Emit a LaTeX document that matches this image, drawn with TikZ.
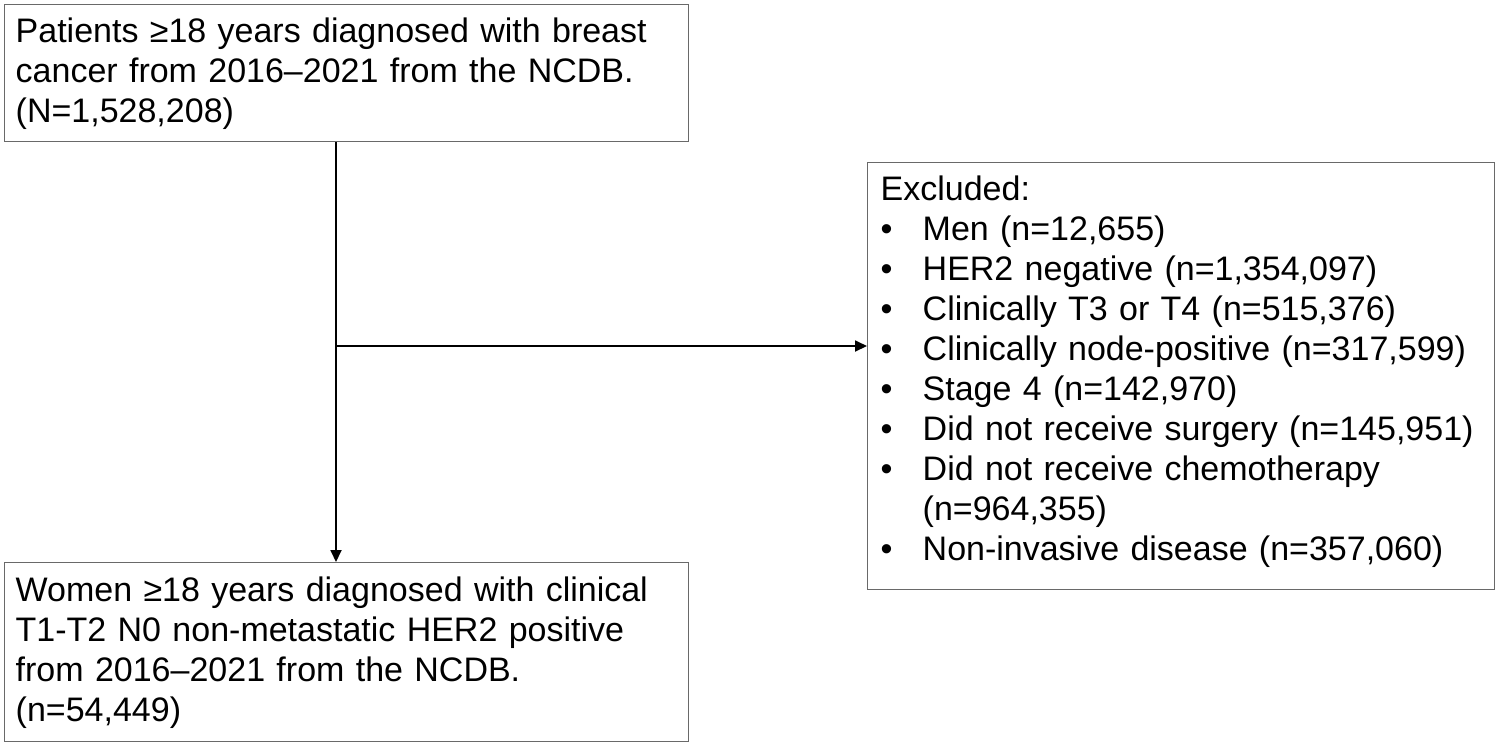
\documentclass[tikz,border=0pt]{standalone}
\usepackage{fontspec}
\setmainfont{Liberation Sans}
\usetikzlibrary{arrows.meta}
\definecolor{boxgray}{RGB}{105,105,105}
\newcommand{\bul}{\makebox[21pt][l]{•}}
\begin{document}
\begin{tikzpicture}[x=0.5pt, y=-0.5pt, font=\fontsize{17pt}{20pt}\selectfont,
	box/.style={draw=boxgray, line width=0.7pt, anchor=north west, align=left, inner xsep=5.5pt, inner ysep=0pt},
	flow/.style={line width=0.9pt, -{Triangle[length=6pt,width=5.5pt]}}]
	%frame
	\useasboundingbox (0,0) rectangle (1499,746);
	%boxes
	\node[box, text width=331pt, minimum height=68.5pt] (cohort) at (4,4)
	{Patients ≥18 years diagnosed with breast\\
		cancer from 2016–2021 from the NCDB.\\
		(N=1,528,208)};
	\node[box, text width=331pt, minimum height=89.5pt] (study) at (4,562)
	{Women ≥18 years diagnosed with clinical\\
		T1-T2 N0 non-metastatic HER2 positive\\
		from 2016–2021 from the NCDB.\\
		(n=54,449)};
	\node[box, inner xsep=6.5pt, text width=300.5pt, minimum height=213.5pt] (excl) at (867,162)
	{Excluded:\\
		\bul Men (n=12,655)\\
		\bul HER2 negative (n=1,354,097)\\
		\bul Clinically T3 or T4 (n=515,376)\\
		\bul Clinically node-positive (n=317,599)\\
		\bul Stage 4 (n=142,970)\\
		\bul Did not receive surgery (n=145,951)\\
		\bul Did not receive chemotherapy\\
		\hspace*{21pt}(n=964,355)\\
		\bul Non-invasive disease (n=357,060)\rule[-8.5pt]{0pt}{8.5pt}};
	%arrows
	\coordinate (split) at (336,346);
	\draw[flow] (split |- cohort.south) -- (split |- study.north);
	\draw[flow] (split) -- (split -| excl.west);
\end{tikzpicture}
\end{document}
